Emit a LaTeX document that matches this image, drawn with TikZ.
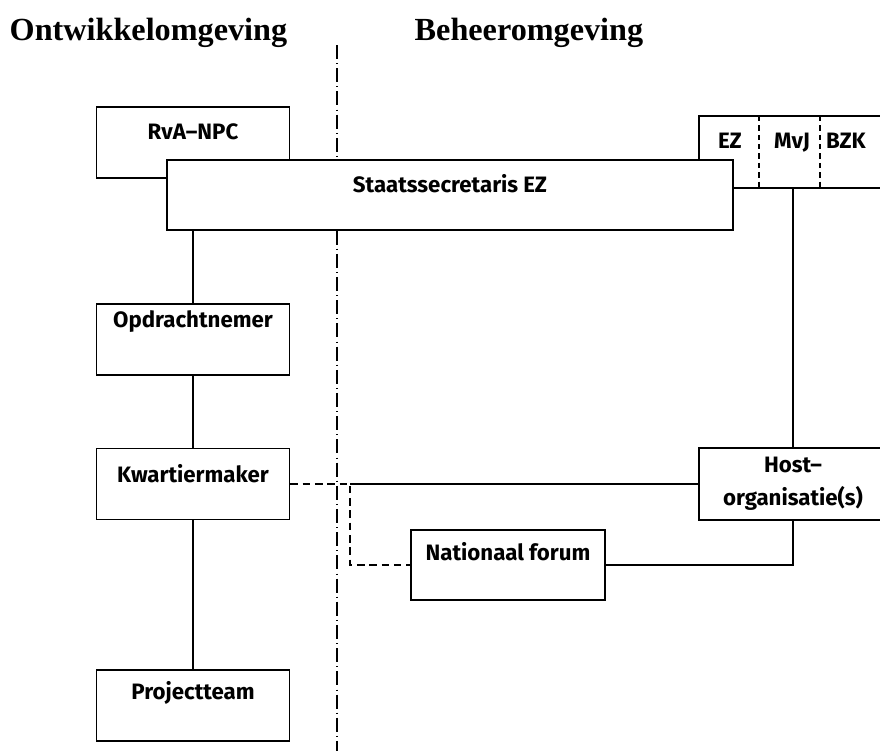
\documentclass[tikz,border=0pt]{standalone}
\usepackage{fontspec}
\setmainfont{Liberation Serif}
\setsansfont{Fira Sans}
\begin{document}
\begin{tikzpicture}[x=0.03cm, y=-0.03cm, line width=1.4pt,
    box/.style={draw, fill=white, inner sep=0pt, minimum width=5.79cm, minimum height=2.13cm, font=\sffamily\bfseries\fontsize{19}{28}\selectfont},
    lift/.style={text height=0.46cm, text depth=#1},
    tag/.style={anchor=base, font=\sffamily\bfseries\fontsize{19}{28}\selectfont},
    heading/.style={anchor=base west, font=\bfseries\fontsize{27.5}{30}\selectfont},
    border/.style={line width=0.9pt, dash pattern=on 12pt off 3.5pt on 0.8pt off 3.5pt},
    forumlink/.style={dash pattern=on 6.5pt off 4pt},
    divider/.style={dash pattern=on 4.5pt off 3.5pt}]
    \useasboundingbox (0,0) rectangle (880,751);
    \clip (0,0) rectangle (880,751);

    % Omgevingen
    \node[heading] (ontw) at (5,40) {Ontwikkelomgeving};
    \node[heading] (beheer) at (410,40) {Beheeromgeving};
    \draw[border] (337,45) -- (337,751);

    % Bovenlaag
    \node[box, lift=0.66cm] (rva) at (193,142.5) {RvA--NPC};
    \node[box, minimum width=5.64cm, minimum height=2.16cm] (ezbox) at (793,152) {};
    \draw[divider] (759,116) -- (759,188);
    \draw[divider] (820,116) -- (820,188);
    \node[tag] (ez) at (730,148) {EZ};
    \node[tag] (mvj) at (792,148) {MvJ};
    \node[tag] (bzk) at (846,148) {BZK};
    \node[box, lift=0.63cm, minimum width=16.98cm, minimum height=2.1cm] (staats) at (450,195) {Staatssecretaris EZ};

    % Ontwikkelomgeving
    \node[box, lift=1.2cm] (opdracht) at (193,339.5) {Opdrachtnemer};
    \node[box, lift=0.54cm] (kwartier) at (193,484) {Kwartiermaker};
    \node[box, lift=0.84cm] (project) at (193,705.5) {Projectteam};

    % Beheeromgeving
    \node[box, align=center, minimum width=5.64cm, minimum height=2.16cm] (host) at (793,484) {Host--\\organisatie(s)};
    \node[box, lift=0.75cm, minimum width=5.82cm, minimum height=2.1cm] (forum) at (508,565) {Nationaal forum};
    \coordinate (split) at (350,484);

    % Lijnen
    \draw (staats.south -| opdracht.north) -- (opdracht.north);
    \draw (opdracht.south) -- (kwartier.north);
    \draw (kwartier.south) -- (project.north);
    \draw (ezbox.south) -- (host.north);
    \draw (split) -- (host.west);
    \draw[forumlink] (kwartier.east) -- (split) |- (forum.west);
    \draw (host.south) |- (forum.east);
\end{tikzpicture}
\end{document}
